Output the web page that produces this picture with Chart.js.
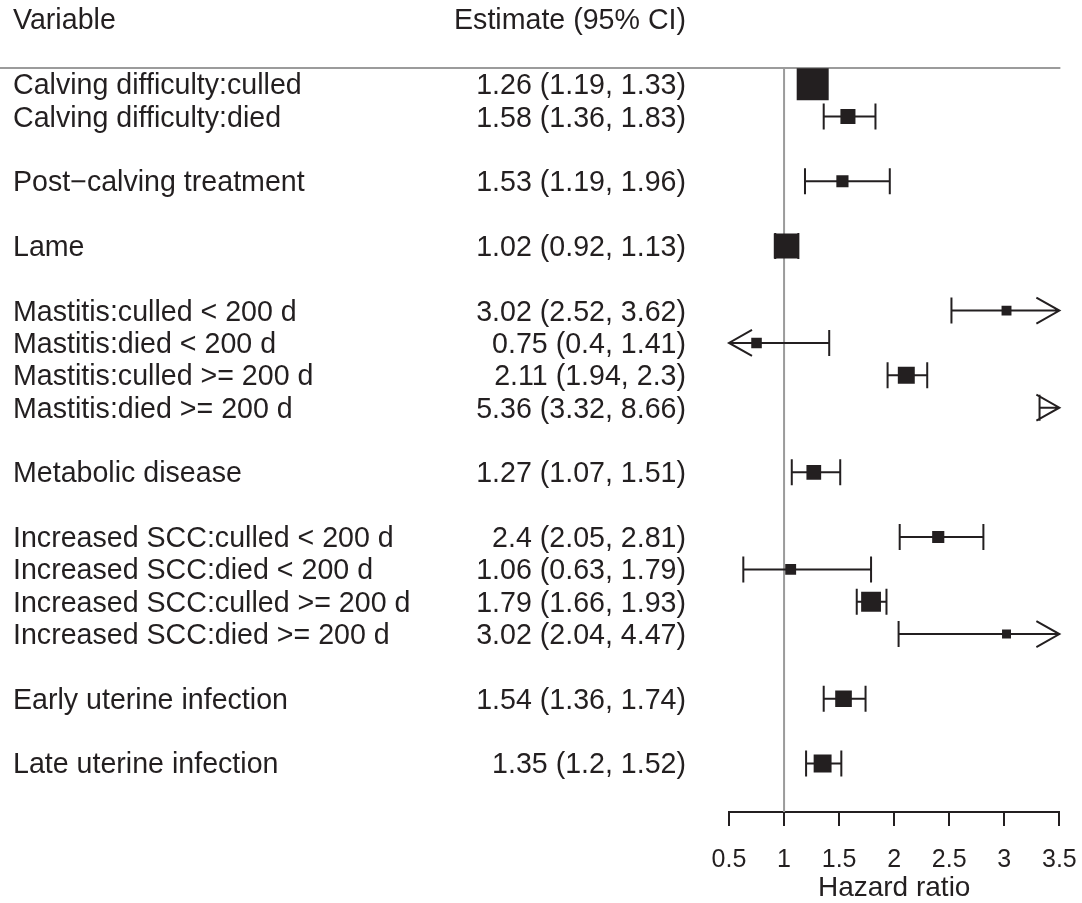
<!DOCTYPE html>
<html>
<head>
<meta charset="utf-8">
<title>Hazard ratios</title>
<script src="https://cdn.jsdelivr.net/npm/chart.js@4.4.1/dist/chart.umd.min.js"></script>
<style>
  html, body { margin: 0; padding: 0; background: #ffffff; }
  #wrap { width: 1082px; height: 903px; position: relative; }
</style>
</head>
<body>
<div id="wrap"><canvas id="forest" width="1082" height="903"></canvas></div>
<script>
// ---- data ----
const variables = [
  'Calving difficulty:culled',
  'Calving difficulty:died',
  'Post\u2212calving treatment',
  'Lame',
  'Mastitis:culled < 200 d',
  'Mastitis:died < 200 d',
  'Mastitis:culled >= 200 d',
  'Mastitis:died >= 200 d',
  'Metabolic disease',
  'Increased SCC:culled < 200 d',
  'Increased SCC:died < 200 d',
  'Increased SCC:culled >= 200 d',
  'Increased SCC:died >= 200 d',
  'Early uterine infection',
  'Late uterine infection'
];
// variables sharing a group are listed together; a blank line separates groups
const groups   = [0, 0, 1, 2, 3, 3, 3, 3, 4, 5, 5, 5, 5, 6, 7];
const estimate = [1.26, 1.58, 1.53, 1.02, 3.02, 0.75, 2.11, 5.36, 1.27, 2.4, 1.06, 1.79, 3.02, 1.54, 1.35];
const lower    = [1.19, 1.36, 1.19, 0.92, 2.52, 0.4, 1.94, 3.32, 1.07, 2.05, 0.63, 1.66, 2.04, 1.36, 1.2];
const upper    = [1.33, 1.83, 1.96, 1.13, 3.62, 1.41, 2.3, 8.66, 1.51, 2.81, 1.79, 1.93, 4.47, 1.74, 1.52];
// relative box weight (largest = 1)
const weight   = [1.0, 0.47, 0.38, 0.78, 0.31, 0.33, 0.53, 0.25, 0.46, 0.38, 0.34, 0.62, 0.28, 0.52, 0.56];
const xTicks   = [0.5, 1, 1.5, 2, 2.5, 3, 3.5];
const headers  = { variable: 'Variable', estimate: 'Estimate (95% CI)' };
const axisTitle = 'Hazard ratio';

// ---- derived ----
const rowOf = i => i + groups[i];
const nRows = rowOf(variables.length - 1) + 1;
const ciText = variables.map((_, i) => `${estimate[i]} (${lower[i]}, ${upper[i]})`);

const INK = '#231f20';
const GREY = '#9b9b9b';
const FONT = '"Liberation Sans", Arial, Helvetica, sans-serif';
const MAX_BOX = 32;       // side of the heaviest box, px
const CAP = 13;           // half height of CI end caps
const ARROW_LEN = 23, ARROW_HALF = 13;

Chart.defaults.font.family = FONT;

const forestPlugin = {
  id: 'forestLayer',
  beforeDatasetsDraw(chart) {
    const { ctx, chartArea, scales: { x, y } } = chart;
    ctx.save();
    ctx.lineCap = 'butt';

    // rule under the header and reference line at HR = 1
    const yRule = y.getPixelForValue(-0.5);
    ctx.strokeStyle = GREY;
    ctx.lineWidth = 2;
    ctx.beginPath();
    ctx.moveTo(0, yRule);
    ctx.lineTo(chartArea.right + 1, yRule);
    ctx.stroke();
    const xRef = x.getPixelForValue(1);
    ctx.beginPath();
    ctx.moveTo(xRef, yRule);
    ctx.lineTo(xRef, chartArea.bottom);
    ctx.stroke();

    // confidence intervals
    ctx.strokeStyle = INK;
    ctx.lineWidth = 2;
    variables.forEach((_, i) => {
      const yy = y.getPixelForValue(rowOf(i));
      const lo = Math.max(lower[i], x.min);
      const hi = Math.min(upper[i], x.max);
      const pl = x.getPixelForValue(lo);
      const pr = x.getPixelForValue(hi);
      ctx.beginPath();
      ctx.moveTo(pl, yy);
      ctx.lineTo(pr, yy);
      // left end
      if (lower[i] < x.min) {
        ctx.moveTo(pl + ARROW_LEN, yy - ARROW_HALF);
        ctx.lineTo(pl, yy);
        ctx.lineTo(pl + ARROW_LEN, yy + ARROW_HALF);
      } else {
        ctx.moveTo(pl, yy - CAP);
        ctx.lineTo(pl, yy + CAP);
      }
      // right end
      if (upper[i] > x.max) {
        ctx.moveTo(pr - ARROW_LEN, yy - ARROW_HALF);
        ctx.lineTo(pr, yy);
        ctx.lineTo(pr - ARROW_LEN, yy + ARROW_HALF);
      } else {
        ctx.moveTo(pr, yy - CAP);
        ctx.lineTo(pr, yy + CAP);
      }
      ctx.stroke();
    });
    ctx.restore();
  },
  afterDraw(chart) {
    const { ctx, scales: { y } } = chart;
    ctx.save();
    ctx.fillStyle = INK;
    ctx.font = `28.6px ${FONT}`;
    ctx.textBaseline = 'alphabetic';
    const base = v => y.getPixelForValue(v) + 10;
    ctx.textAlign = 'left';
    ctx.fillText(headers.variable, 13, base(-2));
    variables.forEach((name, i) => ctx.fillText(name, 13, base(rowOf(i))));
    ctx.textAlign = 'right';
    ctx.fillText(headers.estimate, 686, base(-2));
    ciText.forEach((t, i) => ctx.fillText(t, 686, base(rowOf(i))));
    ctx.restore();
  }
};

new Chart(document.getElementById('forest'), {
  type: 'scatter',
  data: {
    datasets: [{
      data: variables.map((_, i) => ({ x: estimate[i], y: rowOf(i) })),
      pointStyle: 'rect',
      pointRadius: weight.map(w => (w * MAX_BOX) / Math.SQRT2),
      pointHoverRadius: weight.map(w => (w * MAX_BOX) / Math.SQRT2),
      backgroundColor: INK,
      borderWidth: 0
    }]
  },
  options: {
    responsive: false,
    animation: false,
    events: [],
    layout: { padding: { left: 729, right: 22, top: 68, bottom: 0 } },
    plugins: { legend: { display: false }, tooltip: { enabled: false } },
    scales: {
      x: {
        type: 'linear',
        min: xTicks[0],
        max: xTicks[xTicks.length - 1],
        afterBuildTicks: s => { s.ticks = xTicks.map(v => ({ value: v })); },
        afterFit: s => {
          s.height = 91;
          // end labels may overhang the plot edges
          s.paddingLeft = 0;
          s.paddingRight = 0;
        },
        grid: { drawOnChartArea: false, drawTicks: true, tickLength: 14, color: INK, lineWidth: 2 },
        border: { display: true, color: INK, width: 2 },
        ticks: {
          color: INK,
          font: { size: 25 },
          padding: 19,
          maxRotation: 0,
          autoSkip: false,
          callback: v => String(v)
        },
        title: {
          display: true,
          text: axisTitle,
          color: INK,
          font: { size: 28 },
          padding: { top: 0, bottom: -2 }
        }
      },
      y: {
        type: 'linear',
        min: -0.5,
        max: nRows + 0.5,
        reverse: true,
        display: false
      }
    }
  },
  plugins: [forestPlugin]
});
</script>
</body>
</html>
